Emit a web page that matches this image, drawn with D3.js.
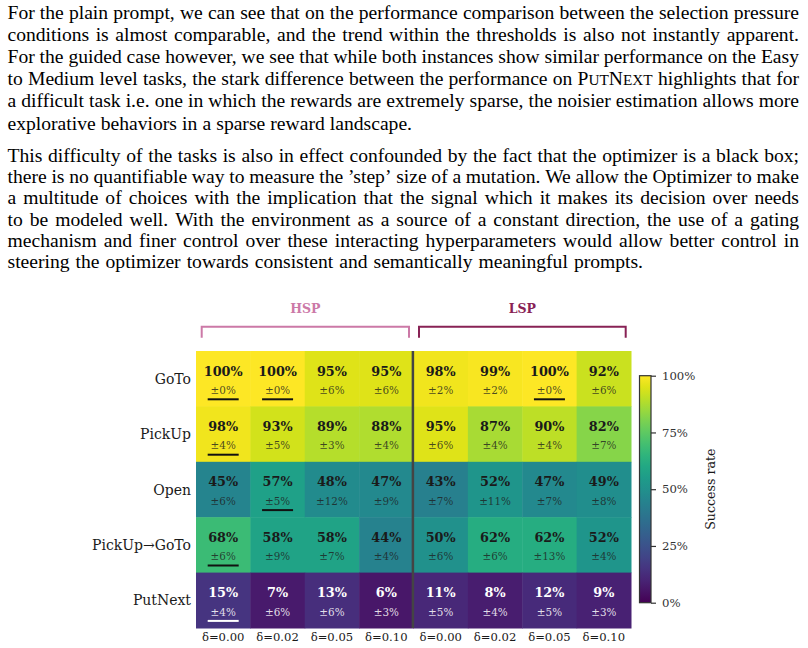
<!DOCTYPE html>
<html><head><meta charset="utf-8">
<script src="https://cdn.jsdelivr.net/npm/d3@7"></script>
<style>html,body{margin:0;padding:0;background:#fff;}svg{display:block;}</style>
</head><body>
<svg id="c" width="808" height="648"></svg>
<script>
// ---------- DATA ----------
const tasks = ["GoTo", "PickUp", "Open", "PickUp\u2192GoTo", "PutNext"];
const groups = ["HSP", "LSP"];
const deltas = ["\u03b4=0.00", "\u03b4=0.02", "\u03b4=0.05", "\u03b4=0.10"];
const meanHSP = [
  [100, 100, 95, 95],
  [98, 93, 89, 88],
  [45, 57, 48, 47],
  [68, 58, 58, 44],
  [15, 7, 13, 6]
];
const stdHSP = [
  [0, 0, 6, 6],
  [4, 5, 3, 4],
  [6, 5, 12, 9],
  [6, 9, 7, 4],
  [4, 6, 6, 3]
];
const meanLSP = [
  [98, 99, 100, 92],
  [95, 87, 90, 82],
  [43, 52, 47, 49],
  [50, 62, 62, 52],
  [11, 8, 12, 9]
];
const stdLSP = [
  [2, 2, 0, 6],
  [6, 4, 4, 7],
  [7, 11, 7, 8],
  [6, 6, 13, 4],
  [5, 4, 5, 3]
];
const colorbarTicks = [0, 25, 50, 75, 100];
const para1 = [
  "For the plain prompt, we can see that on the performance comparison between the selection pressure",
  "conditions is almost comparable, and the trend within the thresholds is also not instantly apparent.",
  "For the guided case however, we see that while both instances show similar performance on the Easy",
  "to Medium level tasks, the stark difference between the performance on PUTNEXT highlights that for",
  "a difficult task i.e. one in which the rewards are extremely sparse, the noisier estimation allows more",
  "explorative behaviors in a sparse reward landscape."
];
const para2 = [
  "This difficulty of the tasks is also in effect confounded by the fact that the optimizer is a black box;",
  "there is no quantifiable way to measure the \u2019step\u2019 size of a mutation. We allow the Optimizer to make",
  "a multitude of choices with the implication that the signal which it makes its decision over needs",
  "to be modeled well. With the environment as a source of a constant direction, the use of a gating",
  "mechanism and finer control over these interacting hyperparameters would allow better control in",
  "steering the optimizer towards consistent and semantically meaningful prompts."
];

// ---------- TEXT ----------
const svg = d3.select("#c");
const TX0 = 7.5, TX1 = 799;
const textG = svg.append("g").attr("font-family", "'Liberation Serif', 'Times New Roman', serif").attr("fill", "#000");

function addWord(g, w, fs) {
  const t = g.append("text").attr("font-size", fs);
  if (w === "PUTNEXT") {
    t.append("tspan").text("P");
    t.append("tspan").attr("font-size", fs * 0.78).text("UT");
    t.append("tspan").text("N");
    t.append("tspan").attr("font-size", fs * 0.78).text("EXT");
  } else {
    t.text(w);
  }
  return t;
}
const FS = 19.6;

function drawPara(lines, y0, lh, lastEnd) {
  lines.forEach((line, i) => {
    const y = y0 + i * lh;
    const words = line.split(" ");
    const els = words.map(w => addWord(textG, w, FS).attr("y", y));
    const widths = els.map(e => e.node().getComputedTextLength());
    const tot = d3.sum(widths);
    const last = i === lines.length - 1;
    const end = last ? lastEnd : TX1;
    const gap = (end - TX0 - tot) / (words.length - 1);
    let x = TX0;
    els.forEach((e, k) => { e.attr("x", x); x += widths[k] + gap; });
  });
}
drawPara(para1, 19, 22.1, 412);
drawPara(para2, 161.7, 21.35, 643);

// ---------- HEATMAP ----------
const cols = [];
groups.forEach((g, gi) => deltas.forEach((d, di) => cols.push({g, gi, d, di})));
const x = d3.scaleBand().domain(d3.range(cols.length)).range([196, 631]);
const y = d3.scaleBand().domain(tasks).range([351, 628]);
const color = d3.scaleSequential(d3.interpolateViridis).domain([0, 100]);

const cells = [];
tasks.forEach((t, r) => {
  const rowVals = meanHSP[r].concat(meanLSP[r]);
  const best = d3.max(rowVals);
  cols.forEach((c, ci) => {
    const m = c.gi === 0 ? meanHSP[r][c.di] : meanLSP[r][c.di];
    const s = c.gi === 0 ? stdHSP[r][c.di] : stdLSP[r][c.di];
    cells.push({t, ci, m, s, best: m === best});
  });
});

const chart = svg.append("g").attr("font-family", "'DejaVu Serif', serif");
chart.selectAll("rect.cell").data(cells).join("rect")
  .attr("class", "cell")
  .attr("x", d => x(d.ci)).attr("y", d => y(d.t))
  .attr("width", x.bandwidth() + 0.5).attr("height", y.bandwidth() + 0.5)
  .attr("fill", d => color(d.m));

const light = d => d.m < 35;
chart.selectAll("text.val").data(cells).join("text")
  .attr("class", "val")
  .attr("x", d => x(d.ci) + x.bandwidth() / 2)
  .attr("y", d => y(d.t) + y.bandwidth() / 2 - 7.7)
  .attr("text-anchor", "middle").attr("dominant-baseline", "central")
  .attr("font-size", 12.8).attr("font-weight", "bold")
  .attr("fill", d => light(d) ? "#fff" : "#1a1a1a")
  .text(d => d.m + "%");
chart.selectAll("text.std").data(cells).join("text")
  .attr("class", "std")
  .attr("x", d => x(d.ci) + x.bandwidth() / 2)
  .attr("y", d => y(d.t) + y.bandwidth() / 2 + 11.3)
  .attr("text-anchor", "middle").attr("dominant-baseline", "central")
  .attr("font-size", 10.4)
  .attr("fill", d => light(d) ? "rgba(255,255,255,0.85)" : "rgba(30,30,30,0.8)")
  .text(d => "\u00b1" + d.s + "%");
chart.selectAll("line.best").data(cells.filter(d => d.best)).join("line")
  .attr("class", "best")
  .attr("x1", d => x(d.ci) + x.bandwidth() / 2 - 15.5)
  .attr("x2", d => x(d.ci) + x.bandwidth() / 2 + 15.5)
  .attr("y1", d => y(d.t) + y.bandwidth() / 2 + 20.6)
  .attr("y2", d => y(d.t) + y.bandwidth() / 2 + 20.6)
  .attr("stroke", d => light(d) ? "#fff" : "#111").attr("stroke-width", 2);

// divider between groups
const divX = x(4) - 0.6;
chart.append("line").attr("x1", divX).attr("x2", divX)
  .attr("y1", y.range()[0]).attr("y2", y.range()[1])
  .attr("stroke", "#444").attr("stroke-width", 2.5);

// row labels
chart.selectAll("text.row").data(tasks).join("text")
  .attr("class", "row")
  .attr("x", 191).attr("y", d => y(d) + y.bandwidth() / 2)
  .attr("text-anchor", "end").attr("dominant-baseline", "central")
  .attr("font-size", 14).attr("fill", "#1a1a1a").text(d => d);

// column labels
chart.selectAll("text.col").data(cols).join("text")
  .attr("class", "col")
  .attr("x", (d, i) => x(i) + x.bandwidth() / 2).attr("y", 636.7)
  .attr("text-anchor", "middle").attr("dominant-baseline", "central")
  .attr("font-size", 11.6).attr("fill", "#1a1a1a").text(d => d.d);

// group brackets
const groupColors = ["#cc79a7", "#882255"];
groups.forEach((g, gi) => {
  const x0 = x(gi * 4) + (gi === 0 ? 5.7 : 5.5);
  const x1 = x(gi * 4 + 3) + x.bandwidth() - (gi === 0 ? 4.5 : 5.3);
  const yt = 326.7, yb = 337.7;
  chart.append("path")
    .attr("d", `M${x0},${yb}V${yt}H${x1}V${yb}`)
    .attr("fill", "none").attr("stroke", groupColors[gi]).attr("stroke-width", 2);
  chart.append("text")
    .attr("x", (x0 + x1) / 2).attr("y", 308)
    .attr("text-anchor", "middle").attr("dominant-baseline", "central")
    .attr("font-size", 12.5).attr("font-weight", "bold")
    .attr("fill", groupColors[gi]).text(g);
});

// ---------- COLORBAR ----------
const cbX = 639.5, cbW = 11.5, cbTop = 375.7, cbBot = 602.7;
const cy = d3.scaleLinear().domain([0, 100]).range([cbBot, cbTop]);
const defs = svg.append("defs");
const grad = defs.append("linearGradient").attr("id", "vir")
  .attr("x1", 0).attr("y1", 1).attr("x2", 0).attr("y2", 0);
d3.range(0, 1.0001, 0.05).forEach(t => grad.append("stop")
  .attr("offset", t).attr("stop-color", d3.interpolateViridis(t)));
chart.append("rect").attr("x", cbX).attr("y", cbTop).attr("width", cbW).attr("height", cbBot - cbTop)
  .attr("fill", "url(#vir)").attr("stroke", "#333").attr("stroke-width", 1.2);
const cbAxis = chart.append("g").attr("transform", `translate(${cbX + cbW},0)`)
  .call(d3.axisRight(cy).tickValues(colorbarTicks).tickFormat(d => d + "%").tickSize(5).tickPadding(6));
cbAxis.select(".domain").remove();
cbAxis.selectAll(".tick line").attr("stroke", "#333").attr("stroke-width", 1.2);
cbAxis.selectAll(".tick text").attr("font-family", "'DejaVu Serif', serif").attr("font-size", 11.7).attr("fill", "#333");
chart.append("text")
  .attr("transform", `translate(710,${(cbTop + cbBot) / 2}) rotate(-90)`)
  .attr("text-anchor", "middle").attr("dominant-baseline", "central")
  .attr("font-size", 12.6).attr("fill", "#1a1a1a").text("Success rate");
</script>
</body></html>
